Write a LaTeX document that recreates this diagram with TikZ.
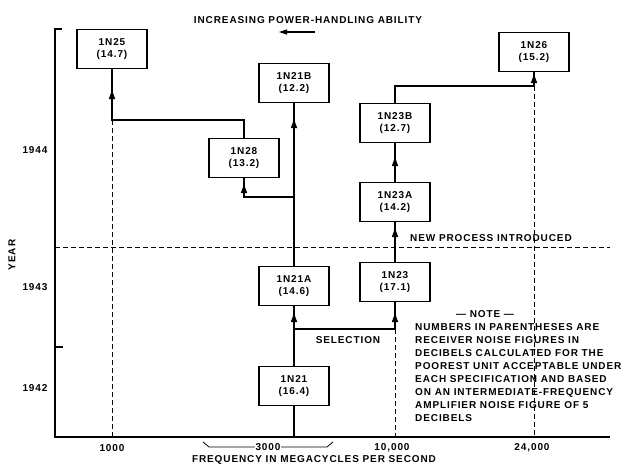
\documentclass[tikz,border=0pt]{standalone}
\usepackage{fontspec}
\setmainfont{Liberation Sans}[LetterSpace=9, UprightFont=* Bold]
\usetikzlibrary{arrows.meta, decorations.markings}

\begin{document}
\begin{tikzpicture}[x=1pt, y=-1pt,
  font=\fontsize{10}{12}\selectfont,
  box/.style={draw, line width=1.1pt, minimum width=70pt, minimum height=39pt, align=center, inner sep=2pt, fill=white},
  conn/.style={line width=1.6pt},
  arr/.style={conn, postaction={decorate}, decoration={markings, mark=at position -#1 with {\arrow{Triangle[length=9pt, width=6pt]}}}},
  guide/.style={line width=0.7pt, dash pattern=on 5pt off 3pt},
  ax/.style={line width=1.4pt}
]
\useasboundingbox (0,0) rectangle (627,467);
% axes
\draw[ax] (62,29) -- (55,29) -- (55,437) -- (610,437);
\draw[ax] (55,347) -- (63,347);
\node[rotate=90] (year) at (12,255) {YEAR};
\node (y44) at (35,150) {1944};
\node (y43) at (35,287) {1943};
\node (y42) at (35,388) {1942};
\draw[guide] (55,247) -- (610,247);
% title
\node (title) at (308,20) {INCREASING POWER-HANDLING ABILITY};
\draw[line width=1.2pt, -{Triangle[length=8pt, width=5pt]}] (315,32) -- (279,32);
% crystal types
\node[box] (in25) at (112,49) {1N25\\(14.7)};
\node[box] (in21b) at (294,83) {1N21B\\(12.2)};
\node[box] (in28) at (244,158) {1N28\\(13.2)};
\node[box] (in26) at (534,52) {1N26\\(15.2)};
\node[box] (in23b) at (395,123) {1N23B\\(12.7)};
\node[box] (in23a) at (395,202) {1N23A\\(14.2)};
\node[box] (in21a) at (294,286) {1N21A\\(14.6)};
\node[box] (in23) at (395,282) {1N23\\(17.1)};
\node[box] (in21) at (294,386) {1N21\\(16.4)};
\coordinate (b3000) at (294,437);
\coordinate (j1) at (294,329);
\coordinate (j2) at (294,197);
\coordinate (k25) at (112,120);
\coordinate (k26) at (534,86);
% frequency guides
\draw[guide] (k25) -- (112,437);
\draw[guide] (395,329) -- (395,437);
\draw[guide] (k26) -- (534,437);
% development lines
\draw[conn] (b3000) -- (in21.south);
\draw[arr=7pt] (in21.north) -- (in21a.south);
\draw[arr=11pt] (j1) -| (in23.south);
\draw[arr=16pt] (in21a.north) -- (in21b.south);
\draw[arr=6pt] (j2) -| (in28.south);
\draw[arr=21pt] (in28.north) |- (k25) -- (in25.south);
\draw[arr=6pt] (in23.north) -- (in23a.south);
\draw[arr=14pt] (in23a.north) -- (in23b.south);
\draw[arr=2pt] (in23b.north) |- (k26) -- (in26.south);
\node (sel) at (348,340) {SELECTION};
\node (newp) at (491,238) {NEW PROCESS INTRODUCED};
% note
\node (notet) at (485,314) {--- NOTE ---};
\node[anchor=north west, align=left, inner sep=0pt, font=\fontsize{10}{13}\selectfont] (note) at (415,323)
  {NUMBERS IN PARENTHESES ARE\\RECEIVER NOISE FIGURES IN\\DECIBELS CALCULATED FOR THE\\POOREST UNIT ACCEPTABLE UNDER\\EACH SPECIFICATION AND BASED\\ON AN INTERMEDIATE-FREQUENCY\\AMPLIFIER NOISE FIGURE OF 5\\DECIBELS};
% frequency axis
\node (f1) at (112,448) {1000};
\draw[line width=0.8pt] (203,442) -- (209,447) -- node[fill=white, inner sep=1pt] (f3) {3000} (327,447) -- (333,442);
\node (f10) at (392,448) {10,000};
\node (f24) at (532,448) {24,000};
\node (xlab) at (314,460) {FREQUENCY IN MEGACYCLES PER SECOND};
\end{tikzpicture}
\end{document}
